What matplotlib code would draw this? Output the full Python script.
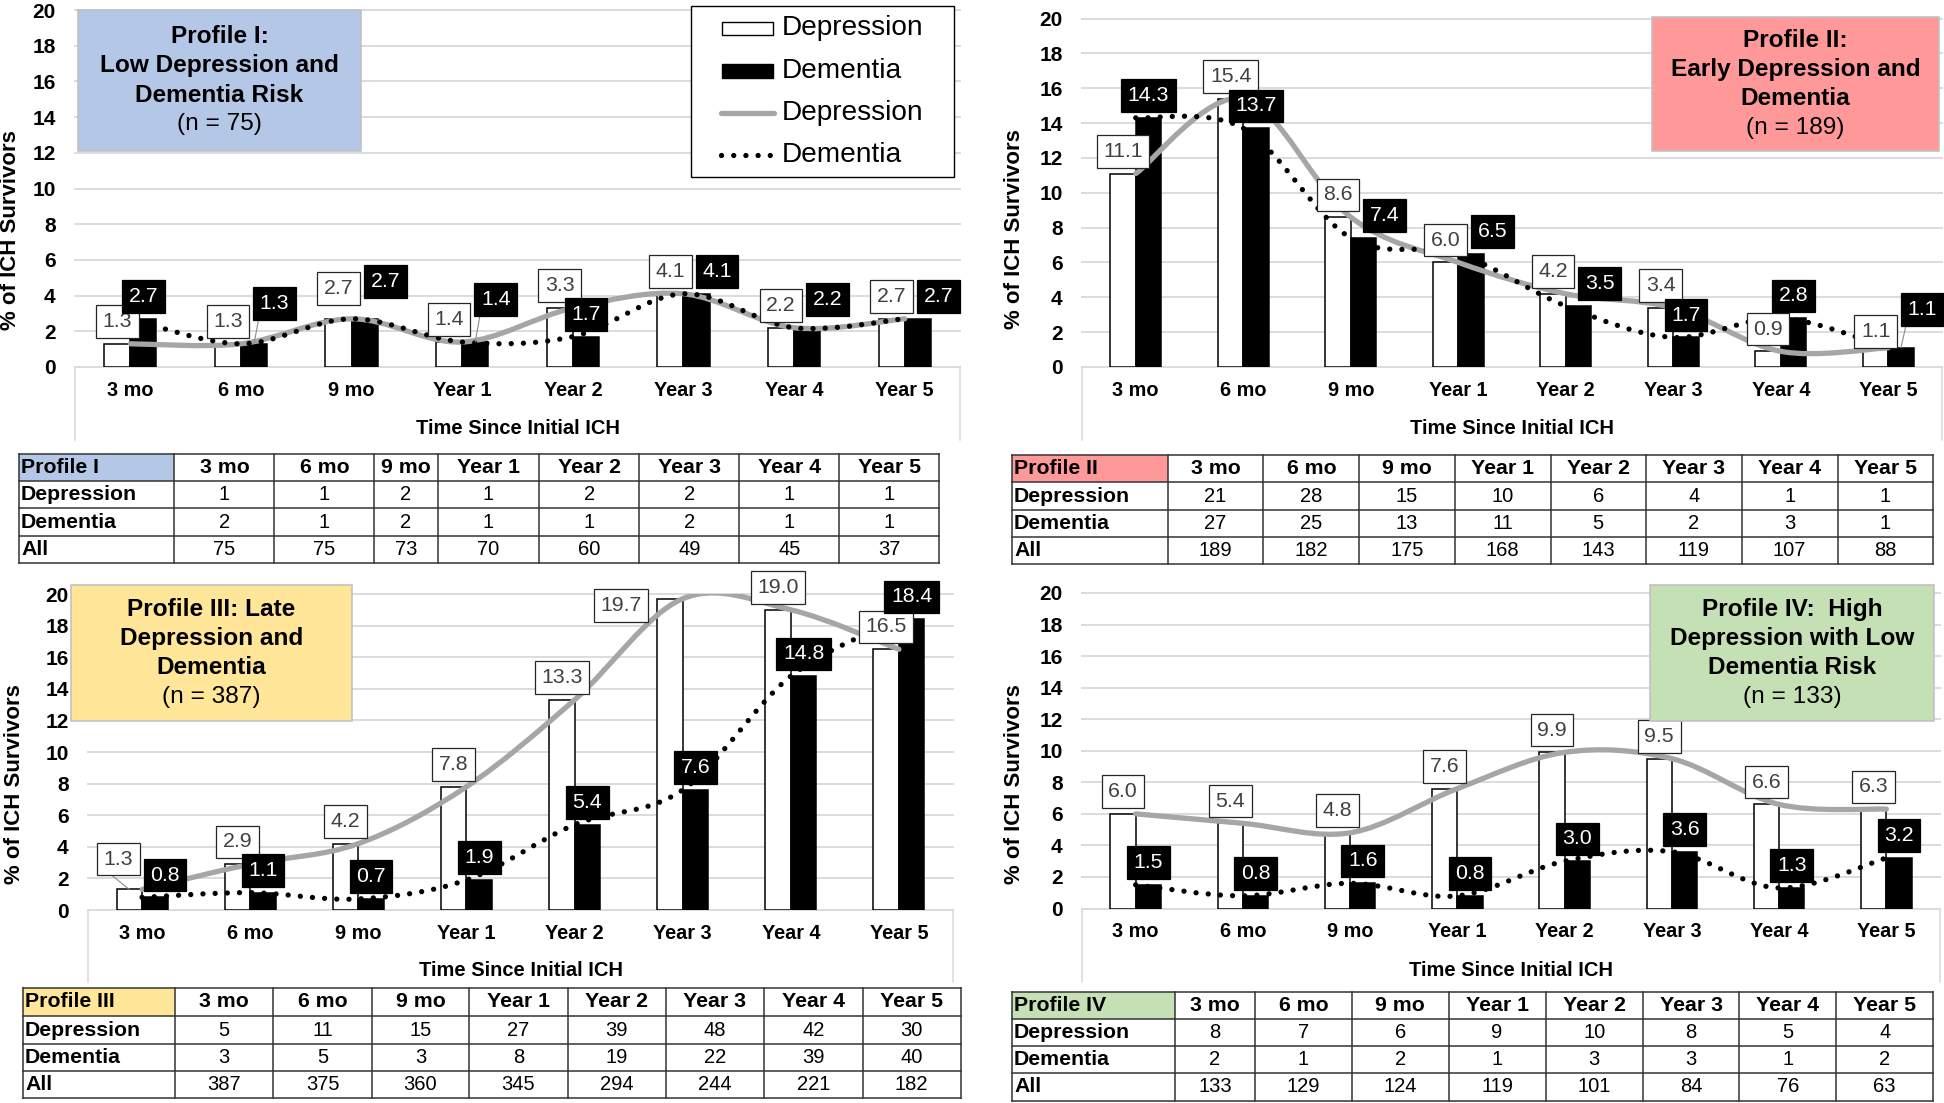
import numpy as np
import matplotlib
matplotlib.use('Agg')
import matplotlib.pyplot as plt
from matplotlib.path import Path
from matplotlib.patches import PathPatch, Rectangle
from matplotlib.lines import Line2D

plt.rcParams['font.family'] = ['Liberation Sans', 'DejaVu Sans']

# ---------------- data ----------------
categories = ['3 mo', '6 mo', '9 mo', 'Year 1', 'Year 2', 'Year 3', 'Year 4', 'Year 5']
yticks = [0, 2, 4, 6, 8, 10, 12, 14, 16, 18, 20]

dep_I = [1.3, 1.3, 2.7, 1.4, 3.3, 4.1, 2.2, 2.7]
dem_I = [2.7, 1.3, 2.7, 1.4, 1.7, 4.1, 2.2, 2.7]
dep_II = [11.1, 15.4, 8.6, 6.0, 4.2, 3.4, 0.9, 1.1]
dem_II = [14.3, 13.7, 7.4, 6.5, 3.5, 1.7, 2.8, 1.1]
dep_III = [1.3, 2.9, 4.2, 7.8, 13.3, 19.7, 19.0, 16.5]
dem_III = [0.8, 1.1, 0.7, 1.9, 5.4, 7.6, 14.8, 18.4]
dep_IV = [6.0, 5.4, 4.8, 7.6, 9.9, 9.5, 6.6, 6.3]
dem_IV = [1.5, 0.8, 1.6, 0.8, 3.0, 3.6, 1.3, 3.2]

tab_dep_I = [1, 1, 2, 1, 2, 2, 1, 1]
tab_dem_I = [2, 1, 2, 1, 1, 2, 1, 1]
tab_all_I = [75, 75, 73, 70, 60, 49, 45, 37]
tab_dep_II = [21, 28, 15, 10, 6, 4, 1, 1]
tab_dem_II = [27, 25, 13, 11, 5, 2, 3, 1]
tab_all_II = [189, 182, 175, 168, 143, 119, 107, 88]
tab_dep_III = [5, 11, 15, 27, 39, 48, 42, 30]
tab_dem_III = [3, 5, 3, 8, 19, 22, 39, 40]
tab_all_III = [387, 375, 360, 345, 294, 244, 221, 182]
tab_dep_IV = [8, 7, 6, 9, 10, 8, 5, 4]
tab_dem_IV = [2, 1, 2, 1, 3, 3, 1, 2]
tab_all_IV = [133, 129, 124, 119, 101, 84, 76, 63]

row_labels = ['Depression', 'Dementia', 'All']
table_names = ['Profile I', 'Profile II', 'Profile III', 'Profile IV']
profile_titles = [
    ['Profile I:', 'Low Depression and', 'Dementia Risk', '(n = 75)'],
    ['Profile II:', 'Early Depression and', 'Dementia', '(n = 189)'],
    ['Profile III: Late', 'Depression and', 'Dementia', '(n = 387)'],
    ['Profile IV:  High', 'Depression with Low', 'Dementia Risk', '(n = 133)'],
]
legend_labels = ['Depression', 'Dementia', 'Depression', 'Dementia']
y_title = '% of ICH Survivors'
x_title = 'Time Since Initial ICH'

# ---------------- layout / style (pixels) ----------------
W, H = 1944, 1103
profile_colors = ['#B4C7E7', '#FF9999', '#FFE699', '#C5E0B4']
GRID = '#D9D9D9'
GRAY_LINE = '#A6A6A6'

panels = [
    dict(ax=(75, 960, 10, 367), pbot=440, ylab=(11, 230), xlab_y=428,
         box=(78, 10, 361, 151),
         cols=[19, 174.4, 274.4, 374.4, 437.5, 539.4, 639.4, 739.4, 839.4, 939.4],
         rows=[454, 481, 508, 536, 563]),
    dict(ax=(1082, 1942, 18.5, 367), pbot=440, ylab=(1014, 229), xlab_y=428,
         box=(1652, 17, 1939, 151),
         cols=[1012, 1167.5, 1263.4, 1359.3, 1454.6, 1550.5, 1645.8, 1741.7, 1837.6, 1932.9],
         rows=[455, 482, 510, 537, 564]),
    dict(ax=(88, 953, 594, 910), pbot=982, ylab=(14.5, 784), xlab_y=970.5,
         box=(71, 585, 352, 721),
         cols=[23, 175, 273, 372, 469, 567.5, 665.6, 764, 862.5, 960.6],
         rows=[987.7, 1016, 1044, 1071, 1098]),
    dict(ax=(1082, 1940, 593, 908.5), pbot=982, ylab=(1014, 784), xlab_y=970.5,
         box=(1650, 585, 1934, 721),
         cols=[1012, 1174.9, 1254.8, 1351.9, 1448.5, 1545.6, 1642.7, 1739.3, 1836.4, 1932.9],
         rows=[991.7, 1018.7, 1046, 1073.3, 1100.7]),
]
series = [(dep_I, dem_I), (dep_II, dem_II), (dep_III, dem_III), (dep_IV, dem_IV)]
tables = [(tab_dep_I, tab_dem_I, tab_all_I), (tab_dep_II, tab_dem_II, tab_all_II),
          (tab_dep_III, tab_dem_III, tab_all_III), (tab_dep_IV, tab_dem_IV, tab_all_IV)]
# manual nudges of individual data labels: (panel, series, index) -> (dx px, dy px up, leader)
label_nudges = {
    (0, 1, 1): (0, 18, True),
    (0, 1, 3): (0, 20, True),
    (0, 0, 2): (0, 8, False),
    (0, 1, 2): (0, 15, False),
    (0, 1, 6): (0, 6, False),
    (1, 0, 7): (0, -6, False),
    (1, 1, 7): (0, 16, True),
    (2, 0, 0): (-11, 8, True),
    (2, 0, 5): (-49, -29, False),
}

PX = 72.0 / 100.0  # points per pixel
LBL_FS = 15.3
LBL_MS = LBL_FS / PX
PADX, PADY = 0.31, 0.32


def excel_box(x0, y0, width, height, mutation_size, *args, **kwargs):
    px = PADX * mutation_size
    py = PADY * mutation_size
    x0 -= px
    y0 -= py
    width += 2 * px
    height += 2 * py
    return Path([(x0, y0), (x0 + width, y0), (x0 + width, y0 + height),
                 (x0, y0 + height), (x0, y0)], closed=True)


def smooth_path(xs, ys):
    P = np.column_stack([xs, ys]).astype(float)
    n = len(P)
    verts = [P[0]]
    codes = [Path.MOVETO]
    for i in range(n - 1):
        p0 = P[i - 1] if i > 0 else P[i]
        p3 = P[i + 2] if i + 2 < n else P[i + 1]
        c1 = P[i] + (P[i + 1] - p0) / 6.0
        c2 = P[i + 1] - (p3 - P[i]) / 6.0
        verts += [c1, c2, P[i + 1]]
        codes += [Path.CURVE4] * 3
    return Path(verts, codes)


fig = plt.figure(figsize=(W / 100, H / 100), dpi=100)
fig.patch.set_facecolor('white')

x = np.arange(len(categories))
BW = 0.236
OFF = 0.118
base_dy = (6 + PADY * LBL_MS) * PX

all_labels = []
axes = []
for pi, (pan, (dep, dem)) in enumerate(zip(panels, series)):
    x0, x1, yt, yb = pan['ax']
    ax = fig.add_axes([x0 / W, 1 - yb / H, (x1 - x0) / W, (yb - yt) / H])
    axes.append(ax)
    ax.set_xlim(-0.5, len(categories) - 0.5)
    ax.set_ylim(0, 20)
    for s in ax.spines.values():
        s.set_visible(False)
    ax.set_yticks(yticks, labels=[str(t) for t in yticks], fontweight='bold', fontsize=15)
    ax.set_xticks(x, labels=categories, fontweight='bold', fontsize=14.3)
    ax.tick_params(axis='y', length=0, pad=14)
    ax.tick_params(axis='x', length=0, pad=9.8)
    ax.grid(axis='y', color=GRID, lw=1.3)
    ax.grid(axis='x', visible=False)
    ax.set_axisbelow(True)
    for gl in ax.get_ygridlines():
        gl.set_clip_on(False)
    ax.patch.set_alpha(0)

    ax.bar(x - OFF, dep, width=BW, color='white', edgecolor='black', lw=1.1, zorder=2)
    ax.bar(x + OFF, dem, width=BW, color='black', edgecolor='black', lw=1.1, zorder=2)

    ax.add_patch(PathPatch(smooth_path(x, dep), fill=False, edgecolor=GRAY_LINE, lw=3.8,
                           capstyle='round', joinstyle='round', zorder=3))
    ax.add_patch(PathPatch(smooth_path(x, dem), fill=False, edgecolor='black', lw=3.8,
                           linestyle=(0, (0.01, 2.3)), capstyle='round', zorder=4))

    labs = []
    for si, (vals, xo, fc, tc, ec) in enumerate([(dep, -OFF, 'white', '#404040', '#262626'),
                                                 (dem, OFF, 'black', 'white', 'black')]):
        row = []
        for i, v in enumerate(vals):
            nud = label_nudges.get((pi, si, i))
            kw = {}
            if nud is not None and nud[2]:
                kw['arrowprops'] = dict(arrowstyle='-', color='#8C8C8C', lw=0.8,
                                        shrinkA=0, shrinkB=0, relpos=(0.0, 0.0))
            t = ax.annotate(f'{v:.1f}', xy=(x[i] + xo, v), xytext=(0, base_dy),
                            textcoords='offset points', ha='center', va='bottom',
                            fontsize=LBL_FS, color=tc,
                            bbox=dict(boxstyle=excel_box, fc=fc, ec=ec, lw=0.9),
                            zorder=6 + si, annotation_clip=False, **kw)
            if nud is not None:
                t.xyann = (nud[0] * PX, base_dy + nud[1] * PX)
            row.append(t)
        labs.append(row)
    all_labels.append(labs)

# resolve overlapping data labels
renderer = fig.canvas.get_renderer()
px_pad = PADX * LBL_MS
py_pad = PADY * LBL_MS
for pi, labs in enumerate(all_labels):
    for i in range(len(categories)):
        d, m = labs[0][i], labs[1][i]
        ed = d.get_window_extent(renderer)
        em = m.get_window_extent(renderer)
        v_ov = min(ed.y1, em.y1) - max(ed.y0, em.y0) + 2 * py_pad
        d_right = ed.x1 + px_pad
        m_left = em.x0 - px_pad
        if v_ov > 10 and d_right + 4 > m_left:
            shift = d_right + 4 - m_left
            m.xyann = (m.xyann[0] + shift * PX, m.xyann[1])

# ---------------- overlay (pixel coordinates) ----------------
ov = fig.add_axes([0, 0, 1, 1])
ov.set_xlim(0, W)
ov.set_ylim(H, 0)
ov.axis('off')
ov.set_zorder(10)

for pi, pan in enumerate(panels):
    x0, x1, yt, yb = pan['ax']
    # plot-area border below the axis
    for xx in (x0, x1):
        ov.add_line(Line2D([xx, xx], [yb, pan['pbot']], color=GRID, lw=1.1))
    # axis titles
    ov.text((x0 + x1) / 2, pan['xlab_y'], x_title, ha='center', va='center',
            fontsize=14.5, fontweight='bold')
    ov.text(pan['ylab'][0], pan['ylab'][1], y_title, ha='center', va='center',
            rotation=90, fontsize=16, fontweight='bold')
    # profile box
    bx0, by0, bx1, by1 = pan['box']
    ov.add_patch(Rectangle((bx0, by0), bx1 - bx0, by1 - by0, fc=profile_colors[pi],
                           ec='#BFBFBF', lw=1.1))
    cy = (by0 + by1) / 2
    for li, line in enumerate(profile_titles[pi]):
        ov.text((bx0 + bx1) / 2, cy + (li - 1.5) * 29.3, line, ha='center', va='center',
                fontsize=17.6, fontweight='bold' if li < 3 else 'normal')
    # table
    cols, rows = pan['cols'], pan['rows']
    ov.add_patch(Rectangle((cols[0], rows[0]), cols[1] - cols[0], rows[1] - rows[0],
                           fc=profile_colors[pi], ec='none'))
    for yy in rows:
        ov.add_line(Line2D([cols[0], cols[-1]], [yy, yy], color='#333333', lw=1.1))
    for xx in cols:
        ov.add_line(Line2D([xx, xx], [rows[0], rows[-1]], color='#333333', lw=1.1))
    rc = [(rows[k] + rows[k + 1]) / 2 for k in range(4)]
    ov.text(cols[0] + 2, rc[0], table_names[pi], ha='left', va='center',
            fontsize=15.3, fontweight='bold')
    for j, c in enumerate(categories):
        ov.text((cols[j + 1] + cols[j + 2]) / 2, rc[0], c, ha='center', va='center',
                fontsize=15.3, fontweight='bold')
    for r, (lab, vals) in enumerate(zip(row_labels, tables[pi])):
        ov.text(cols[0] + 2, rc[r + 1], lab, ha='left', va='center',
                fontsize=15.3, fontweight='bold')
        for j, v in enumerate(vals):
            ov.text((cols[j + 1] + cols[j + 2]) / 2, rc[r + 1], str(v), ha='center',
                    va='center', fontsize=14.5)

# legend (panel I)
ov.add_patch(Rectangle((691, 6), 954 - 691, 176.7 - 6, fc='white', ec='black', lw=1.0))
ly = [28.3, 71, 113.3, 155]
ov.add_patch(Rectangle((721.7, ly[0] - 6.6), 51.6, 13.2, fc='white', ec='black', lw=1.0))
ov.add_patch(Rectangle((721.7, ly[1] - 6.6), 51.6, 13.2, fc='black', ec='black', lw=1.0))
ov.add_line(Line2D([721, 774], [ly[2], ly[2]], color=GRAY_LINE, lw=3.8, solid_capstyle='round'))
ov.add_line(Line2D([721, 776], [ly[3], ly[3]], color='black', lw=3.8,
                   linestyle=(0, (0.01, 2.3)), dash_capstyle='round'))
for yy, lab in zip(ly, legend_labels):
    ov.text(781.7, yy, lab, ha='left', va='center', fontsize=20.2)

fig.savefig('out.png', dpi=100, facecolor='white')
